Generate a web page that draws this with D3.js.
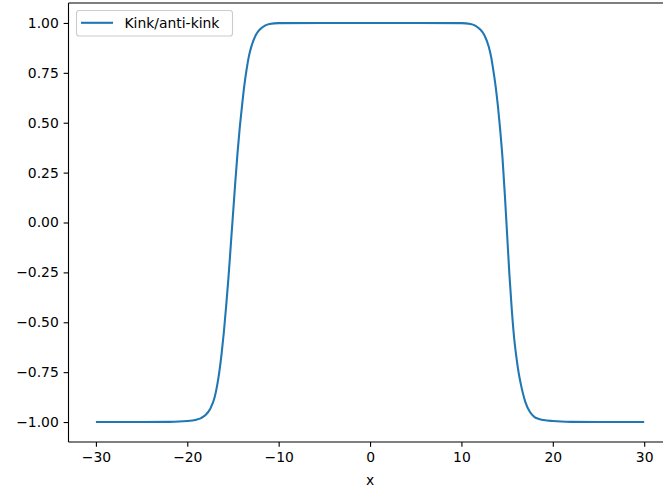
<!DOCTYPE html>
<html>
<head>
<meta charset="utf-8">
<script src="https://cdn.jsdelivr.net/npm/d3@7"></script>
<style>
  html, body { margin: 0; padding: 0; background: #fff; }
  svg { display: block; font-family: "DejaVu Sans", sans-serif; }
</style>
</head>
<body>
<svg id="chart" width="663" height="494"></svg>
<script>
// Field profile: a kink near x = -15 and an anti-kink near x = +15
const xValues = [
  -30, -25, -22, -20, -19, -18.5, -18, -17.5, -17, -16.5, -16.25, -16, -15.75, -15.5, -15.25, -15,
  -14.75, -14.5, -14.25, -14, -13.75, -13.5, -13.25, -13, -12.5, -12, -11.5, -11, -10, -5, 0, 5,
  10, 11, 11.5, 12, 12.5, 13, 13.25, 13.5, 13.75, 14, 14.25, 14.5, 14.75, 15, 15.25, 15.5, 15.75,
  16, 16.25, 16.5, 17, 17.5, 18, 18.5, 19, 20, 22, 25, 30
];
const yValues = [
  -1.0, -1.0, -0.999, -0.995, -0.988, -0.98, -0.965, -0.935, -0.875, -0.75, -0.66, -0.55, -0.42, -0.28, -0.12, 0.04,
  0.20, 0.35, 0.48, 0.59, 0.69, 0.77, 0.835, 0.88, 0.94, 0.97, 0.987, 0.995, 0.999, 1.0, 1.0, 1.0,
  0.999, 0.995, 0.987, 0.97, 0.94, 0.88, 0.83, 0.76, 0.68, 0.58, 0.46, 0.32, 0.14, -0.06, -0.26, -0.43, -0.57,
  -0.67, -0.75, -0.81, -0.90, -0.95, -0.975, -0.985, -0.99, -0.995, -0.999, -1.0, -1.0
];
const xTicks = [-30, -20, -10, 0, 10, 20, 30];
const yTicks = [-1.0, -0.75, -0.5, -0.25, 0.0, 0.25, 0.5, 0.75, 1.0];
const seriesName = "Kink/anti-kink";
const xLabel = "x";

const points = xValues.map((x, i) => ({ x, y: yValues[i] }));

const svg = d3.select("#chart");
const margin = { left: 68.5, right: 671.6, top: 3, bottom: 442 };

const x = d3.scaleLinear().domain([-33, 33]).range([margin.left, margin.right]);
const y = d3.scaleLinear().domain([-1.1, 1.1]).range([margin.bottom, margin.top]);

const fmtMinus = s => s.replace("-", "\u2212");

// Data line
svg.append("path")
  .datum(points)
  .attr("fill", "none")
  .attr("stroke", "#1f77b4")
  .attr("stroke-width", 2.08)
  .attr("stroke-linejoin", "round")
  .attr("stroke-linecap", "butt")
  .attr("d", d3.line().x(d => x(d.x)).y(d => y(d.y)).curve(d3.curveMonotoneX));

// Frame
const frame = svg.append("g").attr("stroke", "#000").attr("stroke-width", 1.11).attr("fill", "none");
frame.append("line").attr("x1", margin.left).attr("x2", margin.right).attr("y1", margin.top).attr("y2", margin.top);
frame.append("line").attr("x1", margin.left).attr("x2", margin.right).attr("y1", margin.bottom).attr("y2", margin.bottom);
frame.append("line").attr("x1", margin.left).attr("x2", margin.left).attr("y1", margin.top).attr("y2", margin.bottom);
frame.append("line").attr("x1", margin.right).attr("x2", margin.right).attr("y1", margin.top).attr("y2", margin.bottom);

// Axes
const xAxis = d3.axisBottom(x).tickValues(xTicks).tickSize(4.86).tickPadding(4.86)
  .tickFormat(d => fmtMinus(d3.format("d")(d)));
const gx = svg.append("g").attr("transform", `translate(0,${margin.bottom})`).call(xAxis);
gx.select(".domain").remove();

const yAxis = d3.axisLeft(y).tickValues(yTicks).tickSize(4.86).tickPadding(4.86)
  .tickFormat(d => fmtMinus(d3.format(".2f")(d)));
const gy = svg.append("g").attr("transform", `translate(${margin.left},0)`).call(yAxis);
gy.select(".domain").remove();

[gx, gy].forEach(g => {
  g.selectAll(".tick line").attr("stroke", "#000").attr("stroke-width", 1.11);
  g.selectAll(".tick text").attr("fill", "#000").attr("font-size", "13.9px")
    .attr("font-family", "DejaVu Sans, sans-serif");
});

svg.append("text")
  .attr("x", x(0)).attr("y", 485)
  .attr("text-anchor", "middle")
  .attr("font-size", "13.9px")
  .attr("fill", "#000")
  .text(xLabel);

// Legend
const legend = svg.append("g");
legend.append("rect")
  .attr("x", 76.5).attr("y", 10.5).attr("width", 156).attr("height", 25.5)
  .attr("rx", 2.8).attr("ry", 2.8)
  .attr("fill", "#fff").attr("fill-opacity", 0.8)
  .attr("stroke", "#cccccc").attr("stroke-width", 1.11);
legend.append("line")
  .attr("x1", 81).attr("x2", 113).attr("y1", 22.8).attr("y2", 22.8)
  .attr("stroke", "#1f77b4").attr("stroke-width", 2.08);
legend.append("text")
  .attr("x", 124.5).attr("y", 27.8)
  .attr("font-size", "13.9px")
  .attr("fill", "#000")
  .text(seriesName);
</script>
</body>
</html>
